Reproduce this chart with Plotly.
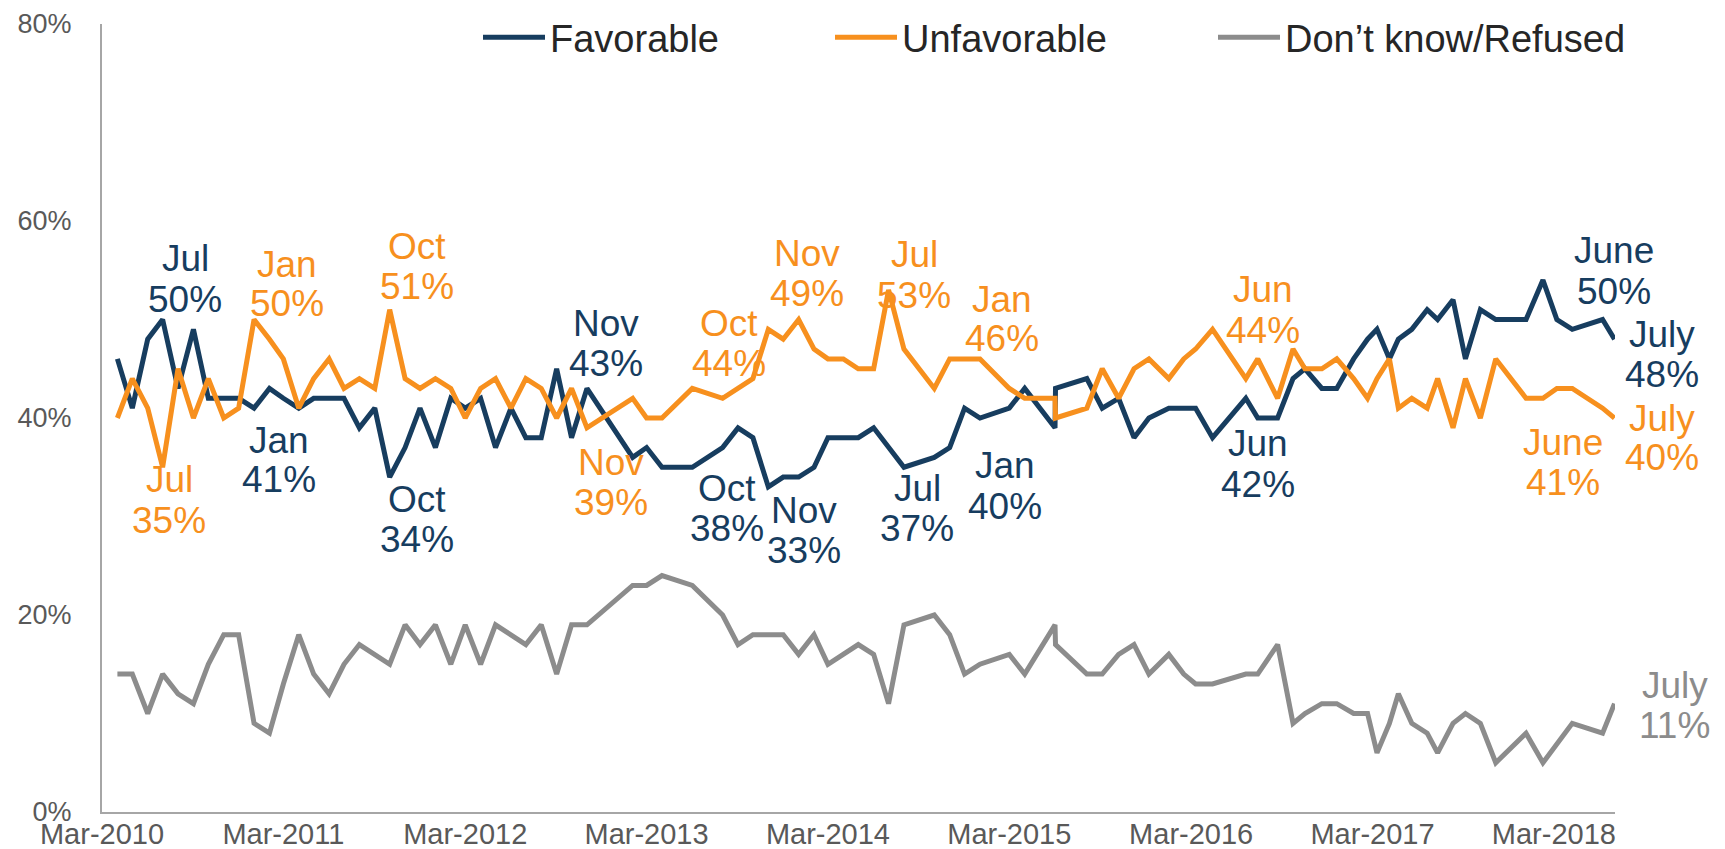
import plotly.graph_objects as go

# survey dates (one entry per poll)
dates = [
    "2010-04-01", "2010-05-01", "2010-06-01", "2010-07-01", "2010-08-01", "2010-09-01",
    "2010-10-01", "2010-11-01", "2010-12-01", "2011-01-01", "2011-02-01", "2011-03-01",
    "2011-04-01", "2011-05-01", "2011-06-01", "2011-07-01", "2011-08-01", "2011-09-01",
    "2011-10-01", "2011-11-01", "2011-12-01", "2012-01-01", "2012-02-01", "2012-03-01",
    "2012-04-01", "2012-05-01", "2012-06-01", "2012-07-01", "2012-08-01", "2012-09-01",
    "2012-10-01", "2012-11-01", "2013-02-01", "2013-03-01", "2013-04-01", "2013-06-01",
    "2013-08-01", "2013-09-01", "2013-10-01", "2013-11-01", "2013-12-01", "2014-01-01",
    "2014-02-01", "2014-03-01", "2014-04-01", "2014-05-01", "2014-06-01", "2014-07-01",
    "2014-08-01", "2014-10-01", "2014-11-01", "2014-12-01", "2015-01-01", "2015-03-01",
    "2015-04-01", "2015-06-01", "2015-06-02", "2015-08-04", "2015-09-04", "2015-10-07",
    "2015-11-07", "2015-12-07", "2016-01-16", "2016-02-15", "2016-03-10", "2016-04-13",
    "2016-06-19", "2016-07-13", "2016-08-22", "2016-09-22", "2016-10-16", "2016-11-19",
    "2016-12-19", "2017-01-22", "2017-02-19", "2017-03-10", "2017-04-04", "2017-04-22",
    "2017-05-19", "2017-06-19", "2017-07-10", "2017-08-10", "2017-09-04", "2017-10-04",
    "2017-11-04", "2018-01-04", "2018-02-07", "2018-03-07", "2018-04-07", "2018-06-07",
    "2018-07-01",
]

favorable = [
    46, 41, 48, 50, 43, 49, 42, 42, 42, 41, 43, 42,
    41, 42, 42, 42, 39, 41, 34, 37, 41, 37, 42, 41,
    42, 37, 41, 38, 38, 45, 38, 43, 36, 37, 35, 35,
    37, 39, 38, 33, 34, 34, 35, 38, 38, 38, 39, 37,
    35, 36, 37, 41, 40, 41, 43, 39, 43, 44, 41, 42,
    38, 40, 41, 41, 41, 38, 42, 40, 40, 44, 45, 43,
    43, 46, 48, 49, 46, 48, 49, 51, 50, 52, 46, 51,
    50, 50, 54, 50, 49, 50, 48,
]

unfavorable = [
    40, 44, 41, 35, 45, 40, 44, 40, 41, 50, 48, 46,
    41, 44, 46, 43, 44, 43, 51, 44, 43, 44, 43, 40,
    43, 44, 41, 44, 43, 40, 43, 39, 42, 40, 40, 43,
    42, 43, 44, 49, 48, 50, 47, 46, 46, 45, 45, 53,
    47, 43, 46, 46, 46, 43, 42, 42, 40, 41, 45, 42,
    45, 46, 44, 46, 47, 49, 44, 46, 42, 47, 45, 45,
    46, 44, 42, 44, 46, 41, 42, 41, 44, 39, 44, 40,
    46, 42, 42, 43, 43, 41, 40,
]

dont_know = [
    14, 14, 10, 14, 12, 11, 15, 18, 18, 9, 8, 13,
    18, 14, 12, 15, 17, 16, 15, 19, 17, 19, 15, 19,
    15, 19, 18, 17, 19, 14, 19, 19, 23, 23, 24, 23,
    20, 17, 18, 18, 18, 16, 18, 15, 16, 17, 16, 11,
    19, 20, 18, 14, 15, 16, 14, 19, 17, 14, 14, 16,
    17, 14, 16, 14, 13, 13, 14, 14, 17, 9, 10, 11,
    11, 10, 10, 6, 9, 12, 9, 8, 6, 9, 10, 9,
    5, 8, 5, 7, 9, 8, 11,
]

x_ticks = ["2010-03-01", "2011-03-01", "2012-03-01", "2013-03-01", "2014-03-01",
           "2015-03-01", "2016-03-01", "2017-03-01", "2018-03-01"]
x_tick_labels = ["Mar-2010", "Mar-2011", "Mar-2012", "Mar-2013", "Mar-2014",
                 "Mar-2015", "Mar-2016", "Mar-2017", "Mar-2018"]
y_ticks = [0, 20, 40, 60, 80]

NAVY = "#173D5F"
ORANGE = "#F7901E"
GRAY = "#8C8C8C"
FONT = "Liberation Sans, Arial, sans-serif"

W, H = 1725, 849
L, R, T, B = 94, 1607, 16, 804   # plot area in pixels
DX, DY = -7, -8                  # nudge for the hand-placed labels


def px_to_paper(px, py):
    return (px - L) / (R - L), (B - py) / (B - T)


series = {
    "Favorable": (favorable, NAVY, "legend"),
    "Unfavorable": (unfavorable, ORANGE, "legend2"),
    "Don\u2019t know/Refused": (dont_know, GRAY, "legend3"),
}

fig = go.Figure()
for name, (vals, color, leg) in series.items():
    fig.add_trace(go.Scatter(
        x=dates, y=vals, name=name, mode="lines",
        line=dict(color=color, width=5),
        legend=leg,
    ))

# callouts: series, poll date, month word, label centre in pixels
callouts = [
    ("Favorable", "2010-07-01", "Jul", 184, 279),
    ("Favorable", "2011-01-01", "Jan", 278, 460),
    ("Favorable", "2011-10-01", "Oct", 416, 519),
    ("Favorable", "2012-11-01", "Nov", 605, 343),
    ("Favorable", "2013-10-01", "Oct", 726, 508),
    ("Favorable", "2013-11-01", "Nov", 803, 530),
    ("Favorable", "2014-07-01", "Jul", 916, 508),
    ("Favorable", "2015-01-01", "Jan", 1004, 486),
    ("Favorable", "2016-06-19", "Jun", 1257, 464),
    ("Favorable", "2018-06-07", "June", 1613, 271),
    ("Favorable", "2018-07-01", "July", 1661, 354),
    ("Unfavorable", "2010-07-01", "Jul", 168, 500),
    ("Unfavorable", "2011-01-01", "Jan", 286, 284),
    ("Unfavorable", "2011-10-01", "Oct", 416, 266),
    ("Unfavorable", "2012-11-01", "Nov", 610, 482),
    ("Unfavorable", "2013-10-01", "Oct", 728, 343),
    ("Unfavorable", "2013-11-01", "Nov", 806, 273),
    ("Unfavorable", "2014-07-01", "Jul", 913, 275),
    ("Unfavorable", "2015-01-01", "Jan", 1001, 319),
    ("Unfavorable", "2016-06-19", "Jun", 1262, 310),
    ("Unfavorable", "2018-06-07", "June", 1562, 462),
    ("Unfavorable", "2018-07-01", "July", 1661, 438),
    ("Don\u2019t know/Refused", "2018-07-01", "July", 1674, 705),
]

annotations = []
for name, d, word, px, py in callouts:
    vals, color, _ = series[name]
    v = vals[dates.index(d)]
    for text, dy in ((word, -20), (f"{v}%", 20)):
        ax, ay = px_to_paper(px + DX, py + DY + dy)
        annotations.append(dict(
            text=text, xref="paper", yref="paper", x=ax, y=ay,
            xanchor="center", yanchor="middle", showarrow=False,
            font=dict(family=FONT, size=37, color=color),
        ))

legend_style = dict(
    orientation="h", xanchor="left", yanchor="middle",
    font=dict(family=FONT, size=38, color="#262626"),
    itemwidth=62, bgcolor="rgba(0,0,0,0)",
)
legend_y = px_to_paper(0, 29.5)[1]

fig.update_layout(
    width=W, height=H,
    margin=dict(l=L, r=W - R, t=T, b=H - B, autoexpand=False),
    plot_bgcolor="white",
    paper_bgcolor="white",
    font=dict(family=FONT, size=28, color="#595959"),
    showlegend=True,
    legend=dict(legend_style, x=px_to_paper(470, 0)[0], y=legend_y),
    legend2=dict(legend_style, x=px_to_paper(822, 0)[0], y=legend_y),
    legend3=dict(legend_style, x=px_to_paper(1205, 0)[0], y=legend_y),
    annotations=annotations,
    xaxis=dict(
        type="date",
        range=["2010-03-01", "2018-07-02"],
        tickvals=x_ticks,
        ticktext=x_tick_labels,
        tickfont=dict(size=29),
        showgrid=False,
        showline=True, linecolor="#A6A6A6", linewidth=2,
        ticks="",
        zeroline=False,
        ticklabelstandoff=-5,
    ),
    yaxis=dict(
        range=[0, 80],
        tickvals=y_ticks,
        ticktext=[f"{t}%" for t in y_ticks],
        tickfont=dict(size=27),
        showgrid=False,
        showline=True, linecolor="#A6A6A6", linewidth=2,
        ticks="",
        zeroline=False,
        ticklabelstandoff=23,
    ),
)

fig.write_html("out.html")
